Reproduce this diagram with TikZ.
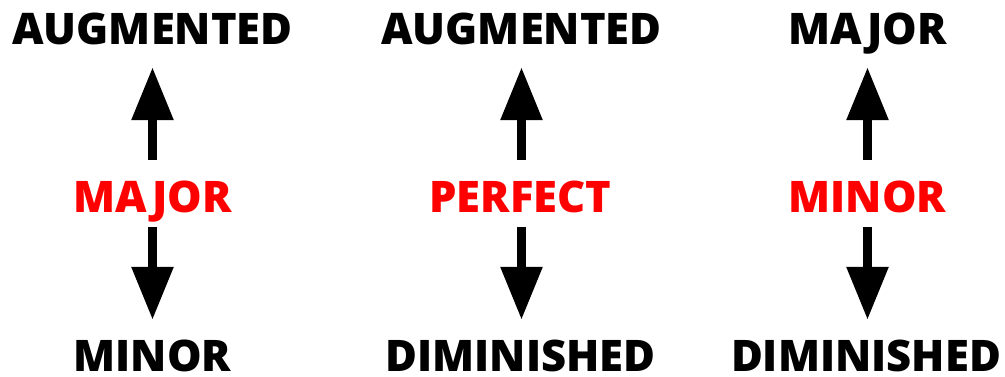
\documentclass[tikz,border=0pt]{standalone}
\usepackage{fontspec}
\setmainfont{Open Sans}[UprightFont=* Bold]
\usetikzlibrary{arrows.meta}
\definecolor{lblred}{RGB}{255,0,0}
\tikzset{
  lbl/.style={inner sep=0pt, anchor=base, text height=31pt, text depth=0pt,
    font=\fontsize{43.5pt}{50pt}\selectfont\bfseries},
  hot/.style={lbl, text=lblred},
  bigarrow/.style={draw=black, line width=9pt,
    -{Triangle[length=53pt,width=40pt]}}
}
\begin{document}
\begin{tikzpicture}[x=1pt,y=1pt]
\useasboundingbox (0,0) rectangle (1005,376);
% column 1
\node[lbl] (t1) at (152.5,331) {AUGMENTED};
\node[hot] (m1) at (152.5,164) {MAJOR};
\node[lbl] (b1) at (152.5,4.5) {MINOR};
% column 2
\node[lbl] (t2) at (521.5,331) {AUGMENTED};
\node[hot] (m2) at (520.5,164) {PERFECT};
\node[lbl] (b2) at (520.5,4.5) {DIMINISHED};
% column 3
\node[lbl] (t3) at (867.5,331) {MAJOR};
\node[hot] (m3) at (867.5,164) {MINOR};
\node[lbl] (b3) at (866,4.5) {DIMINISHED};
\foreach \i in {1,2,3}{
  \draw[bigarrow, shorten <=21pt, shorten >=22pt] (m\i.north -| t\i.south) -- (t\i.south);
  \draw[bigarrow, shorten <=15pt, shorten >=20.5pt] (m\i.south -| t\i.south) -- (b\i.north -| t\i.south);
}
\end{tikzpicture}
\end{document}
